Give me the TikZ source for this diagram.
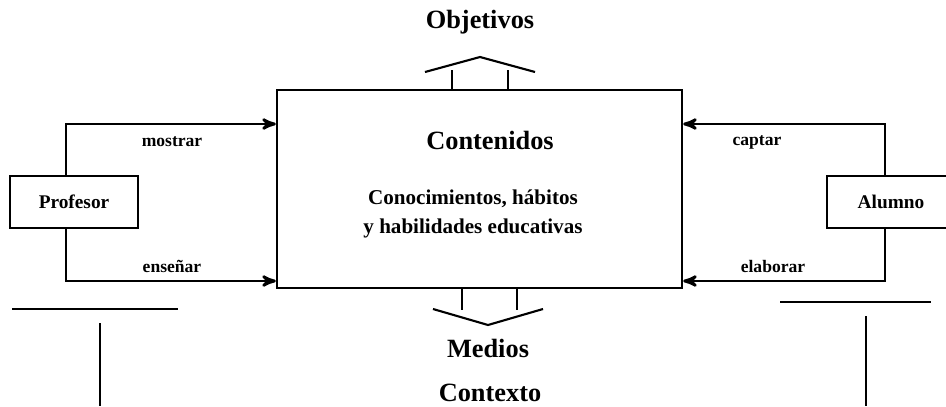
\documentclass[tikz,border=0pt]{standalone}
\usepackage{fontspec}
\setmainfont{Liberation Serif}
\usetikzlibrary{arrows}
\tikzset{
	caja/.style = {draw=black, line width=1.6pt, inner sep=0pt,
		minimum width=2.56cm, minimum height=1.04cm,
		font=\bfseries\fontsize{11}{13}\selectfont},% profesor, alumno
	bloque/.style = {draw=black, line width=1.4pt, inner sep=0pt,
		minimum width=8.1cm, minimum height=3.96cm},% caja central
	etiq/.style = {inner sep=0pt, font=\bfseries\fontsize{10}{12}\selectfont},
	titulo/.style = {inner sep=0pt, font=\bfseries\fontsize{15}{18}\selectfont},
	linea/.style = {line width=1.6pt},
	flecha/.style = {line width=1.2pt}% flechas anchas
}

\begin{document}
\begin{tikzpicture}[x=0.02cm, y=-0.02cm, >=stealth']
	\useasboundingbox (0,0) rectangle (946,406);
	\clip (0,0) rectangle (946,406);
	\node [bloque] (cont) at (479.5,189) {};
	\node [titulo] (conttit) at (490,140) {Contenidos};
	\node [etiq, align=center, font=\bfseries\fontsize{12}{16}\selectfont]
		(conttxt) at (473,214) {Conocimientos, hábitos\\y habilidades educativas};
	\node [caja] (prof) at (74,202) {Profesor};
	\node [caja] (alum) at (891,202) {Alumno};
	\node [titulo] (obj) at (480,22) {Objetivos};
	\node [titulo] (med) at (488,348) {Medios};
	\node [titulo] (ctx) at (490,393) {Contexto};
	% lazos profesor / alumno
	\coordinate (ia) at (66,124);
	\coordinate (ib) at (66,281);
	\coordinate (da) at (885,124);
	\coordinate (db) at (885,281);
	\draw [linea,->] (prof.north -| ia) -- (ia) -- (ia -| cont.west);
	\draw [linea,->] (prof.south -| ib) -- (ib) -- (ib -| cont.west);
	\draw [linea,->] (alum.north -| da) -- (da) -- (da -| cont.east);
	\draw [linea,->] (alum.south -| db) -- (db) -- (db -| cont.east);
	\node [etiq] (mostrar) at (172,142) {mostrar};
	\node [etiq] (ensenar) at (172,266) {enseñar};
	\node [etiq] (captar) at (757,142) {captar};
	\node [etiq] (elaborar) at (773,266) {elaborar};
	% flechas anchas
	\draw [linea] (452,90) -- (452,70) (508,90) -- (508,70);
	\draw [flecha] (425,72) -- (480,57) -- (535,72);
	\draw [linea] (462,288) -- (462,310) (517,288) -- (517,310);
	\draw [flecha] (433,309) -- (488,325) -- (543,309);
	% contexto
	\draw [linea] (12,309) -- (178,309) (100,323) -- (100,406);
	\draw [linea] (780,302) -- (931,302) (866,316) -- (866,406);
\end{tikzpicture}
\end{document}
